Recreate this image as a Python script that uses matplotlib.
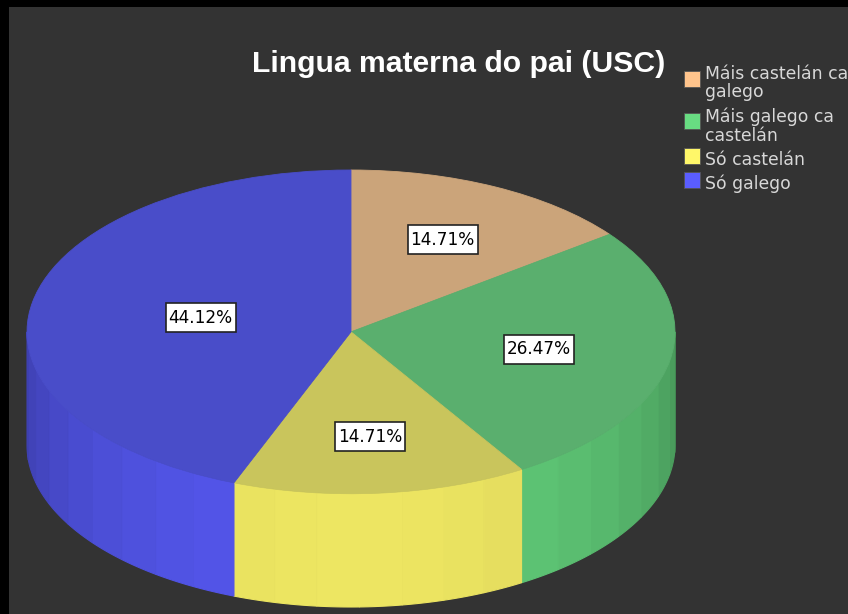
import numpy as np
import matplotlib
matplotlib.use('Agg')
import matplotlib.pyplot as plt
from matplotlib.patches import Rectangle

# counts behind the percentages (n = 34)
categories = ['Máis castelán ca\ngalego', 'Máis galego ca\ncastelán', 'Só castelán', 'Só galego']
counts = [5, 9, 5, 15]
legend_colors = ['#ffc48c', '#68dc82', '#fff769', '#5a5dff']
top_colors = ['#cba47a', '#5aaf6e', '#c9c55c', '#494dc9']
label_radius = [0.635, 0.59, 0.65, 0.472]

W, H = 848, 614
fig = plt.figure(figsize=(W / 100, H / 100), dpi=100, facecolor='black')

# pixel coordinates for background, title and legend
bg = fig.add_axes([0, 0, 1, 1])
bg.set_xlim(0, W)
bg.set_ylim(H, 0)
bg.axis('off')
bg.add_patch(Rectangle((9, 7), W - 9, H - 7, color='#333333', lw=0))
bg.text(459, 64, 'Lingua materna do pai (USC)', color='white', fontsize=21.7,
        fontweight='bold', family='Liberation Sans', ha='center', va='center')

swatch_y = [71, 113, 148, 172]
text_y = [83, 126, 160, 184]
for name, c, sy, ty in zip(categories, legend_colors, swatch_y, text_y):
    bg.add_patch(Rectangle((684, sy), 16, 16, facecolor=c, edgecolor='#555555', lw=0.6))
    bg.text(705, ty, name, color='#d8d8d8', fontsize=12.4, family='DejaVu Sans',
            ha='left', va='center', linespacing=1.05)

# pie axes: x -1..1 is 27..675 px, y 1..-1.7 is 170..607 px
ax = fig.add_axes([27 / W, 1 - 607 / H, 648 / W, 437 / H])
ax.patch.set_alpha(0)

wedges, texts, autotexts = ax.pie(counts, colors=top_colors, startangle=90, counterclock=False,
                                  radius=1, autopct='%.2f%%', pctdistance=0.63,
                                  textprops=dict(color='black', fontsize=12.2, family='DejaVu Sans'))
ax.set_aspect('auto')
ax.set_xlim(-1, 1)
ax.set_ylim(-1.7, 1)
depth = 0.7
box_w, box_h = 70 / 324, 29 / 162

edges = np.concatenate([[0], np.cumsum(counts)]) / sum(counts) * 360
for i, c in enumerate(legend_colors):
    # hide the seam between wedges
    wedges[i].set_edgecolor(top_colors[i])
    wedges[i].set_linewidth(0.6)

    a0, a1 = edges[i], edges[i + 1]
    mid = np.radians((a0 + a1) / 2)
    lx, ly = label_radius[i] * np.sin(mid), label_radius[i] * np.cos(mid)
    autotexts[i].set_position((lx, ly))
    autotexts[i].set_zorder(5)
    ax.add_patch(Rectangle((lx - box_w / 2, ly - box_h / 2), box_w, box_h, facecolor='white',
                           edgecolor='#222222', lw=1.2, zorder=4))

    # side wall in flat bands of about 8 degrees, only the front half shows
    n = int(round((a1 - a0) / 8))
    steps = np.linspace(a0, a1, n + 1)
    rgb = np.array(matplotlib.colors.to_rgb(c))
    for s0, s1 in zip(steps[:-1], steps[1:]):
        s0, s1 = max(s0, 90), min(s1, 270)
        if s0 >= s1:
            continue
        t = np.radians(np.linspace(s0, s1, 12))
        shade = 0.68 + 0.25 * abs(np.cos(np.radians((s0 + s1) / 2)))
        col = tuple(rgb * shade)
        ax.fill(np.r_[np.sin(t), np.sin(t)[::-1]],
                np.r_[np.cos(t), np.cos(t)[::-1] - depth],
                color=col, lw=0.8, zorder=0.5, clip_on=False)

fig.savefig('out.png', dpi=100, facecolor=fig.get_facecolor())
